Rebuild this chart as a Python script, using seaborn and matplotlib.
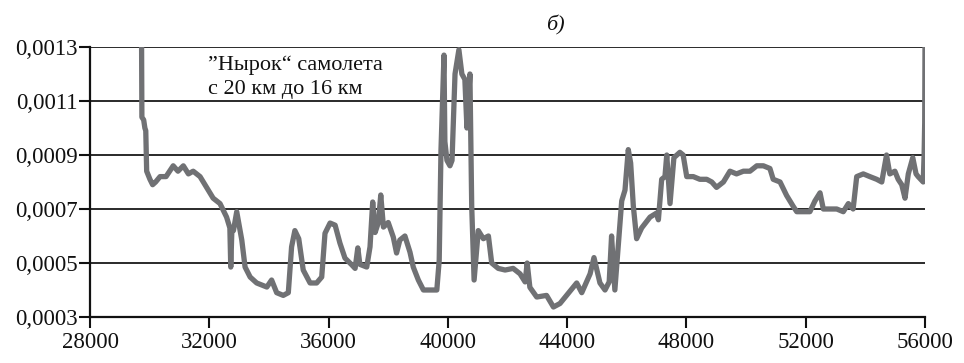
import matplotlib
matplotlib.use("Agg")
import matplotlib.pyplot as plt
import seaborn as sns
import pandas as pd

# ---- data ----
x_vals = [29730, 29740, 29800, 29840, 29870, 29900, 30010, 30100, 30200, 30350,
          30550, 30790, 30950, 31130, 31300, 31460, 31690, 31910, 32130, 32360,
          32580, 32690, 32720, 32760, 32810, 32920, 33090, 33200, 33370, 33590,
          33930, 34090, 34260, 34480, 34650, 34760, 34870, 35000, 35150, 35380,
          35600, 35770, 35880, 36050, 36220, 36380, 36550, 36780, 36890, 36980,
          37050, 37280, 37390, 37480, 37560, 37670, 37750, 37840, 38000, 38170,
          38280, 38390, 38560, 38730, 38840, 39010, 39180, 39400, 39630, 39710,
          39770, 39870, 39900, 39970, 40070, 40140, 40240, 40370, 40470, 40570,
          40640, 40740, 40800, 40880, 41020, 41190, 41360, 41470, 41690, 41920,
          42190, 42420, 42590, 42660, 42750, 42980, 43310, 43540, 43760, 43980,
          44320, 44490, 44770, 44900, 45100, 45270, 45410, 45490, 45600, 45710,
          45830, 45940, 46050, 46130, 46220, 46330, 46500, 46780, 47000, 47060,
          47170, 47280, 47340, 47450, 47580, 47780, 47890, 48010, 48230, 48450,
          48680, 48850, 49010, 49240, 49460, 49680, 49910, 50130, 50360, 50580,
          50800, 50910, 51140, 51360, 51580, 51700, 51920, 52140, 52310, 52480,
          52590, 52810, 53040, 53260, 53430, 53590, 53710, 53930, 54150, 54380,
          54550, 54660, 54710, 54820, 54990, 55100, 55220, 55330, 55440, 55590,
          55700, 55770, 55940, 55970, 55990, 56000]
y_vals = [0.00130, 0.00104, 0.00103, 0.00100, 0.00099, 0.00084, 0.00081, 0.00079, 0.00080, 0.00082,
          0.00082, 0.00086, 0.00084, 0.00086, 0.00083, 0.00084, 0.00082, 0.00078, 0.00074, 0.00072,
          0.00067, 0.00063, 0.000485, 0.00063, 0.00062, 0.00069, 0.000585, 0.000485, 0.000448, 0.000426,
          0.000411, 0.000437, 0.00039, 0.00038, 0.00039, 0.00056, 0.00062, 0.00059, 0.000474, 0.000426,
          0.000426, 0.000448, 0.00061, 0.000648, 0.00064, 0.000574, 0.000518, 0.000493, 0.00048, 0.000556,
          0.000495, 0.000485, 0.00056, 0.000726, 0.000613, 0.00065, 0.000752, 0.000633, 0.00065, 0.000596,
          0.000537, 0.000585, 0.0006, 0.00054, 0.000485, 0.000437, 0.0004, 0.0004, 0.0004, 0.00051,
          0.00092, 0.00127, 0.00095, 0.00088, 0.00086, 0.00088, 0.0012, 0.00129, 0.0012, 0.00118,
          0.00100, 0.0012, 0.00071, 0.000437, 0.00062, 0.00059, 0.0006, 0.0005, 0.00048, 0.000474,
          0.00048, 0.00046, 0.00043, 0.0005, 0.00041, 0.000374, 0.00038, 0.000337, 0.00035, 0.00038,
          0.000426, 0.00039, 0.00046, 0.00052, 0.000426, 0.0004, 0.00043, 0.0006, 0.0004, 0.00056,
          0.00073, 0.00077, 0.00092, 0.00087, 0.00071, 0.00059, 0.00063, 0.00067, 0.000685, 0.00066,
          0.00081, 0.00082, 0.0009, 0.00072, 0.00089, 0.00091, 0.0009, 0.00082, 0.00082, 0.00081,
          0.00081, 0.0008, 0.00078, 0.0008, 0.00084, 0.00083, 0.00084, 0.00084, 0.00086, 0.00086,
          0.00085, 0.00081, 0.0008, 0.00075, 0.00071, 0.00069, 0.00069, 0.00069, 0.00073, 0.00076,
          0.0007, 0.0007, 0.0007, 0.00069, 0.00072, 0.0007, 0.00082, 0.00083, 0.00082, 0.00081,
          0.0008, 0.00087, 0.0009, 0.00083, 0.00084, 0.00081, 0.00079, 0.00074, 0.00083, 0.00089,
          0.00083, 0.00082, 0.0008, 0.0009, 0.00102, 0.00130]

x_ticks = [28000, 32000, 36000, 40000, 44000, 48000, 52000, 56000]
y_ticks = [0.0003, 0.0005, 0.0007, 0.0009, 0.0011, 0.0013]
y_tick_labels = ["0,0003", "0,0005", "0,0007", "0,0009", "0,0011", "0,0013"]
note_line1 = "”Нырок“ самолета"
note_line2 = "с 20 км до 16 км"
panel_title = "б)"

df = pd.DataFrame({"x": x_vals, "y": y_vals})

sns.set_style("white")
plt.rcParams["font.family"] = ["Liberation Serif", "DejaVu Serif"]

fig = plt.figure(figsize=(9.64, 3.63), dpi=100)
ax = fig.add_axes([90 / 964, 1 - 317 / 363, (925 - 90) / 964, 270 / 363])

ax.set_axisbelow(True)
ax.yaxis.grid(True, color="#2a2a2a", linewidth=1.4)
ax.xaxis.grid(False)

sns.lineplot(data=df, x="x", y="y", ax=ax, color="#707174", linewidth=3.8,
             sort=False, estimator=None)

ax.set_xlim(28000, 56000)
ax.set_ylim(0.0003, 0.0013)
ax.set_xticks(x_ticks)
ax.set_xticklabels([str(t) for t in x_ticks])
ax.set_yticks(y_ticks)
ax.set_yticklabels(y_tick_labels)
ax.set_xlabel("")
ax.set_ylabel("")

for s in ["top", "right"]:
    ax.spines[s].set_visible(False)
for s in ["left", "bottom"]:
    ax.spines[s].set_color("#111111")
    ax.spines[s].set_linewidth(1.6)

ax.tick_params(axis="both", direction="out", length=8, width=1.5, color="#111111",
               labelsize=16.5, labelcolor="#111111")
ax.tick_params(axis="y", pad=1)
ax.tick_params(axis="x", pad=3)
ax.tick_params(left=True, bottom=True)

ax.text((208 - 90) / 835, (317 - 70) / 270, note_line1, transform=ax.transAxes,
        fontsize=16, va="baseline", ha="left", color="#111111")
ax.text((208 - 90) / 835, (317 - 94) / 270, note_line2, transform=ax.transAxes,
        fontsize=16, va="baseline", ha="left", color="#111111")

fig.text(555 / 964, 1 - 30 / 363, panel_title, fontsize=16, style="italic",
         ha="center", va="baseline", color="#111111")

fig.savefig("out.png", dpi=100)
